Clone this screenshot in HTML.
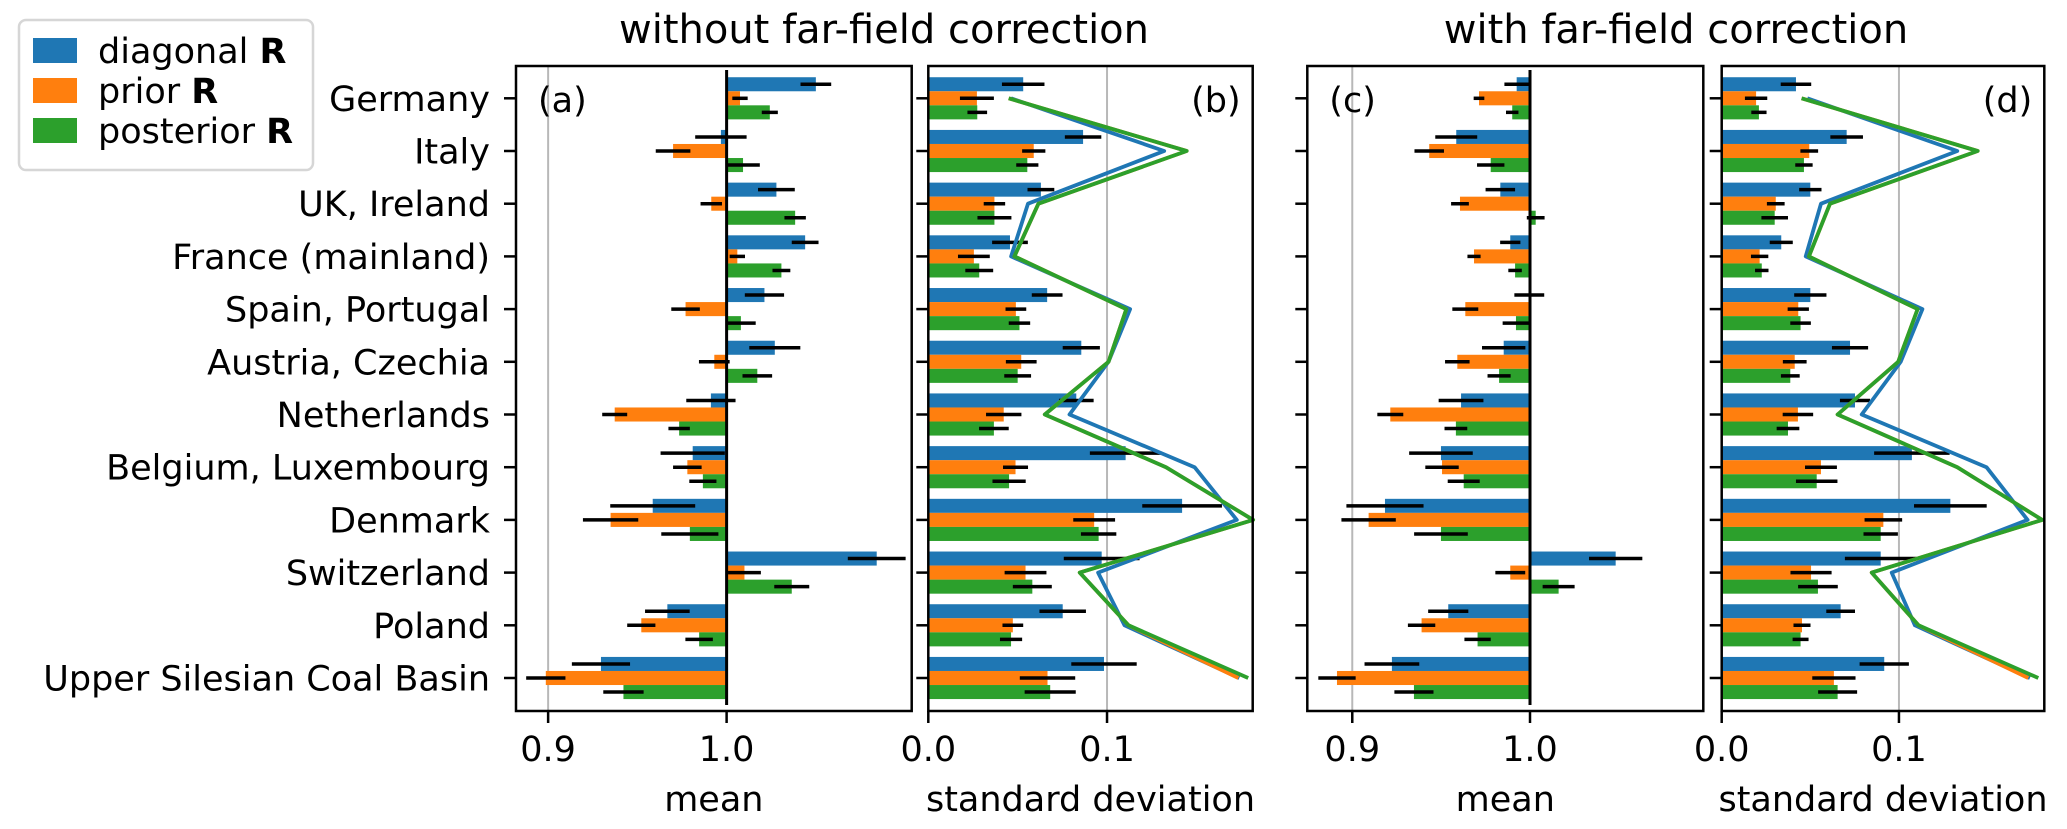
<!DOCTYPE html>
<html><head><meta charset="utf-8">
<style>
html,body{margin:0;padding:0;background:#fff;}
svg{display:block;font-family:"DejaVu Sans","Liberation Sans",sans-serif;}
</style></head>
<body>
<svg id="chart" width="2067" height="829" viewBox="0 0 2067 829" xmlns="http://www.w3.org/2000/svg">
  <rect x="0" y="0" width="2067" height="829" fill="#fff"/>
  <text x="884" y="43" font-size="40" text-anchor="middle">without far-field correction</text>
  <text x="1676" y="43" font-size="40" text-anchor="middle">with far-field correction</text>
  <g>
    <rect x="19" y="20" width="294" height="150" rx="7" fill="#fff" stroke="#d6d6d6" stroke-width="2.5"/>
    <rect x="33" y="38" width="44" height="25" fill="#1f77b4"/>
    <text x="98" y="63" font-size="35">diagonal <tspan font-weight="bold">R</tspan></text>
    <rect x="33" y="78" width="44" height="25" fill="#ff7f0e"/>
    <text x="98" y="103" font-size="35">prior <tspan font-weight="bold">R</tspan></text>
    <rect x="33" y="118" width="44" height="25" fill="#2ca02c"/>
    <text x="98" y="143" font-size="35">posterior <tspan font-weight="bold">R</tspan></text>
  </g>
  <g id="plots"></g>
</svg>
<script>
const categories = ["Germany","Italy","UK, Ireland","France (mainland)","Spain, Portugal","Austria, Czechia","Netherlands","Belgium, Luxembourg","Denmark","Switzerland","Poland","Upper Silesian Coal Basin"];

// (a) mean, without far-field correction
const meanA_diag  = [1.050,0.9968,1.0279,1.044,1.0212,1.027,0.9912,0.981,0.9586,1.0841,0.9668,0.9296];
const meanA_diagE = [0.0086,0.0144,0.0103,0.0075,0.011,0.0143,0.0138,0.018,0.0238,0.0162,0.0125,0.0163];
const meanA_prior = [1.0075,0.970,0.9914,1.006,0.977,0.9931,0.9373,0.978,0.935,1.010,0.9522,0.8987];
const meanA_priorE= [0.0043,0.0097,0.006,0.0043,0.008,0.0086,0.007,0.008,0.0155,0.0092,0.0079,0.011];
const meanA_post  = [1.0242,1.0092,1.0384,1.0307,1.008,1.0172,0.9734,0.9867,0.9794,1.0365,0.9846,0.9422];
const meanA_postE = [0.0045,0.0094,0.006,0.005,0.0083,0.0083,0.006,0.0076,0.016,0.0098,0.0077,0.0113];
// (b) std, without far-field correction
const stdB_diag   = [0.0531,0.0866,0.063,0.0457,0.0665,0.0856,0.0828,0.1104,0.142,0.097,0.0752,0.0983];
const stdB_diagE  = [0.0119,0.0102,0.0075,0.010,0.0086,0.0104,0.0097,0.020,0.0223,0.0212,0.013,0.0183];
const stdB_prior  = [0.0272,0.059,0.037,0.0255,0.049,0.052,0.0422,0.0488,0.0928,0.0544,0.0473,0.0667];
const stdB_priorE = [0.0095,0.0065,0.006,0.0089,0.0058,0.0086,0.0099,0.007,0.0117,0.0117,0.0058,0.0155];
const stdB_post   = [0.0274,0.0554,0.037,0.0285,0.051,0.050,0.0367,0.0452,0.0953,0.0582,0.0463,0.0682];
const stdB_postE  = [0.0055,0.0062,0.0095,0.0078,0.006,0.0075,0.0083,0.0093,0.0099,0.0109,0.0062,0.0143];
const lineB_diag  = [0.0463,0.132,0.0558,0.0463,0.1129,0.1008,0.079,0.149,0.1726,0.095,0.1098,0.174];
const lineB_prior = [0.045,0.1446,0.0616,0.0482,0.1108,0.1008,0.0652,0.133,0.1817,0.0847,0.112,0.1735];
const lineB_post  = [0.045,0.1446,0.0616,0.0482,0.1108,0.1008,0.0652,0.133,0.1817,0.0847,0.112,0.179];
// (c) mean, with far-field correction
const meanC_diag  = [0.9925,0.9585,0.9833,0.9889,0.9996,0.9852,0.9612,0.9499,0.9184,1.0482,0.954,0.9223];
const meanC_diagE = [0.0069,0.0118,0.0083,0.0057,0.0084,0.0122,0.0126,0.0179,0.0217,0.015,0.0113,0.0154];
const meanC_prior = [0.9713,0.9433,0.9606,0.9685,0.9636,0.9591,0.9214,0.9505,0.9092,0.9889,0.939,0.8914];
const meanC_priorE= [0.003,0.0083,0.005,0.0037,0.0073,0.0069,0.0073,0.0094,0.0153,0.0084,0.0077,0.0105];
const meanC_post  = [0.990,0.9779,1.0032,0.9916,0.9921,0.9826,0.9583,0.9627,0.9499,1.0161,0.9705,0.9347];
const meanC_postE = [0.0035,0.0077,0.005,0.0038,0.0075,0.0065,0.0064,0.009,0.0151,0.009,0.0074,0.011];
// (d) std, with far-field correction
const stdD_diag   = [0.0419,0.0705,0.05,0.0336,0.05,0.0724,0.0752,0.1073,0.129,0.0897,0.0671,0.0917];
const stdD_diagE  = [0.0086,0.0092,0.0063,0.0065,0.0091,0.0102,0.0085,0.0213,0.0205,0.0202,0.0081,0.0139];
const stdD_prior  = [0.0194,0.0494,0.0305,0.0214,0.0432,0.0412,0.043,0.056,0.0912,0.0504,0.0453,0.0633];
const stdD_priorE = [0.0063,0.005,0.005,0.0049,0.006,0.0067,0.0086,0.009,0.0106,0.0116,0.0048,0.0122];
const stdD_post   = [0.021,0.0464,0.0299,0.0226,0.0445,0.0387,0.0374,0.0536,0.0897,0.0543,0.0445,0.0654];
const stdD_postE  = [0.0043,0.0049,0.0075,0.0038,0.0058,0.0053,0.0064,0.0117,0.0097,0.0112,0.0045,0.011];
const lineD_diag  = [0.0483,0.1329,0.056,0.0474,0.1132,0.101,0.079,0.1494,0.1726,0.0959,0.109,0.1739];
const lineD_prior = [0.0451,0.1444,0.0611,0.0492,0.1105,0.0996,0.0654,0.1329,0.1808,0.0846,0.111,0.173];
const lineD_post  = [0.0451,0.1444,0.0611,0.0492,0.1105,0.0996,0.0654,0.1329,0.1808,0.0846,0.111,0.1786];

const meanTicks = [0.9, 1.0];
const meanTickLabels = ["0.9","1.0"];
const stdTicks = [0.0, 0.1];
const stdTickLabels = ["0.0","0.1"];

const NS = "http://www.w3.org/2000/svg";
const COLORS = ["#1f77b4","#ff7f0e","#2ca02c"];
const SERIES = ["diagonal","prior","posterior"];
const TOP = 66, BOTTOM = 711;
const Y0 = 98.3, DY = 52.7, BH = 14.05;
function yCat(i){ return Y0 + i*DY; }
function mk(tag, attrs, parent){
  const e = document.createElementNS(NS, tag);
  for (const k in attrs) e.setAttribute(k, attrs[k]);
  parent.appendChild(e);
  return e;
}
const root = document.getElementById("plots");

const panels = [
  {id:"a", x0:516, x1:911.7, dmin:0.882, dmax:1.1037, kind:"mean", vals:[meanA_diag,meanA_prior,meanA_post], errs:[meanA_diagE,meanA_priorE,meanA_postE], lines:null, xlabel:"mean", labelLeft:true},
  {id:"b", x0:928.3, x1:1252.7, dmin:0, dmax:0.1815, kind:"std", vals:[stdB_diag,stdB_prior,stdB_post], errs:[stdB_diagE,stdB_priorE,stdB_postE], lines:[lineB_diag,lineB_prior,lineB_post], xlabel:"standard deviation", labelLeft:false},
  {id:"c", x0:1307.3, x1:1703.3, dmin:0.8747, dmax:1.0975, kind:"mean", vals:[meanC_diag,meanC_prior,meanC_post], errs:[meanC_diagE,meanC_priorE,meanC_postE], lines:null, xlabel:"mean", labelLeft:true},
  {id:"d", x0:1721.7, x1:2044.3, dmin:0, dmax:0.182, kind:"std", vals:[stdD_diag,stdD_prior,stdD_post], errs:[stdD_diagE,stdD_priorE,stdD_postE], lines:[lineD_diag,lineD_prior,lineD_post], xlabel:"standard deviation", labelLeft:false}
];

panels.forEach((p, pi) => {
  const sx = v => p.x0 + (v - p.dmin) / (p.dmax - p.dmin) * (p.x1 - p.x0);
  const g = mk("g", {}, root);
  
  
  const ticks = p.kind === "mean" ? meanTicks : stdTicks;
  const tlabels = p.kind === "mean" ? meanTickLabels : stdTickLabels;
  const gridV = p.kind === "mean" ? 0.9 : 0.1;
  const gl = mk("line", {x1:sx(gridV), x2:sx(gridV), y1:TOP, y2:BOTTOM, stroke:"#b8b8b8", "stroke-width":2}, g);
  
  
  const base = p.kind === "mean" ? 1.0 : 0.0;
  for (let s = 0; s < 3; s++) {
    for (let i = 0; i < categories.length; i++) {
      const v = p.vals[s][i];
      const yc = yCat(i) + (s - 1) * BH;
      const xa = sx(Math.min(v, base)), xb = sx(Math.max(v, base));
      const r = mk("rect", {x:xa, y:yc - BH/2, width:Math.max(xb - xa, 0.5), height:BH, fill:COLORS[s]}, g);
      
      
    }
  }
  for (let s = 0; s < 3; s++) {
    for (let i = 0; i < categories.length; i++) {
      const v = p.vals[s][i], e = p.errs[s][i];
      const yc = yCat(i) + (s - 1) * BH;
      const el = mk("line", {x1:sx(v - e), x2:sx(v + e), y1:yc, y2:yc, stroke:"#000", "stroke-width":3.5}, g);
      
      
    }
  }
  if (p.kind === "mean") {
    const bl = mk("line", {x1:sx(1.0), x2:sx(1.0), y1:70, y2:705, stroke:"#000", "stroke-width":3}, g);
    
    
  }
  if (p.lines) {
    for (let s = 0; s < 3; s++) {
      const pts = p.lines[s].map((v, i) => sx(v).toFixed(1) + "," + yCat(i).toFixed(1)).join(" ");
      const pl = mk("polyline", {points:pts, fill:"none", stroke:COLORS[s], "stroke-width":3.8, "stroke-linejoin":"round"}, g);
      
      
    }
  }
  const fr = mk("rect", {x:p.x0, y:TOP, width:p.x1 - p.x0, height:BOTTOM - TOP, fill:"none", stroke:"#000", "stroke-width":2.5}, g);
  
  
  for (let i = 0; i < categories.length; i++) {
    const t = mk("line", {x1:p.x0 - 12, x2:p.x0, y1:yCat(i), y2:yCat(i), stroke:"#000", "stroke-width":2.5}, g);
    
    
    if (pi === 0) {
      const tl = mk("text", {x:p.x0 - 26, y:yCat(i) + 12.5, "font-size":35, "text-anchor":"end"}, g);
      tl.textContent = categories[i];
      
      
    }
  }
  ticks.forEach((tv, k) => {
    const t = mk("line", {x1:sx(tv), x2:sx(tv), y1:BOTTOM, y2:BOTTOM + 12, stroke:"#000", "stroke-width":2.5}, g);
    
    
    const tl = mk("text", {x:sx(tv), y:761, "font-size":35, "text-anchor":"middle"}, g);
    tl.textContent = tlabels[k];
    
    
  });
  const xl = mk("text", {x:(p.x0 + p.x1)/2, y:811, "font-size":35, "text-anchor":"middle"}, g);
  xl.textContent = p.xlabel;
  
  
  const pl = p.labelLeft
    ? mk("text", {x:p.x0 + 22, y:112, "font-size":35}, g)
    : mk("text", {x:p.x1 - 12, y:112, "font-size":35, "text-anchor":"end"}, g);
  pl.textContent = "(" + p.id + ")";
  
  
});
</script>
</body></html>
